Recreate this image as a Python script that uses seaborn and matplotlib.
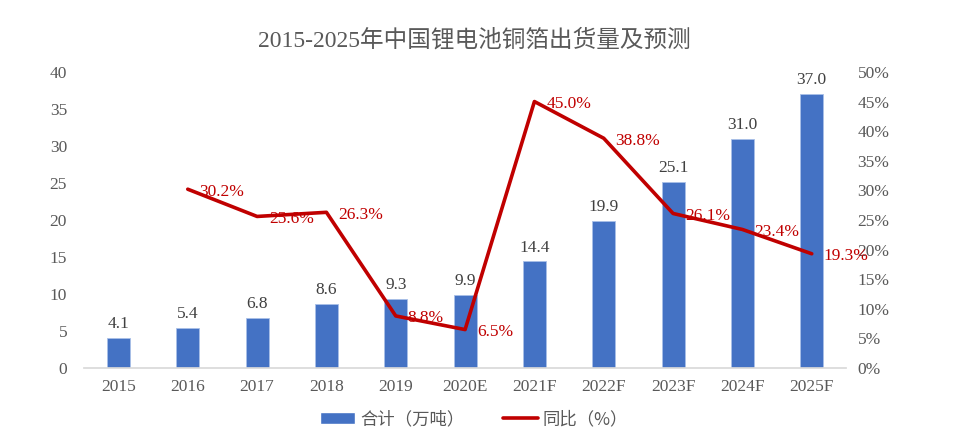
import numpy as np
import pandas as pd
import seaborn as sns
import matplotlib.pyplot as plt
from matplotlib.ticker import FuncFormatter
from matplotlib.patches import Patch
from matplotlib.lines import Line2D

# chart data
years = ['2015', '2016', '2017', '2018', '2019', '2020E',
         '2021F', '2022F', '2023F', '2024F', '2025F']
shipment = [4.1, 5.4, 6.8, 8.6, 9.3, 9.9, 14.4, 19.9, 25.1, 31.0, 37.0]
growth = [np.nan, 30.2, 25.6, 26.3, 8.8, 6.5, 45.0, 38.8, 26.1, 23.4, 19.3]

df = pd.DataFrame({'year': years, 'shipment': shipment, 'growth': growth})

sns.set_theme(style='white')
serif = ['Liberation Serif', 'Noto Sans CJK SC']
plt.rcParams['font.family'] = serif
plt.rcParams['axes.unicode_minus'] = False

fig, ax = plt.subplots(figsize=(9.74, 4.44), dpi=100)
fig.subplots_adjust(left=0.086, right=0.869, top=0.838, bottom=0.171)

sns.barplot(data=df, x='year', y='shipment', color='#4472C4',
            saturation=1, width=0.33, edgecolor='#A9C0E8', linewidth=0.6,
            ax=ax)
ax.set_ylim(0, 40)
ax.set_yticks(range(0, 41, 5))
ax.set_xlabel('')
ax.set_ylabel('')

for i, v in enumerate(shipment):
    ax.text(i, v + 0.8, f'{v:.1f}', ha='center', va='bottom',
            fontsize=12.5, color='#404040')

ax2 = ax.twinx()
x_idx = np.arange(len(years))
sns.lineplot(x=x_idx, y=df['growth'], color='#C00000', linewidth=2.6,
             ax=ax2, legend=False)
ax2.set_ylim(0, 50)
ax2.set_yticks(range(0, 51, 5))
ax2.yaxis.set_major_formatter(FuncFormatter(lambda v, p: f'{v:.0f}%'))
ax2.set_ylabel('')
ax.set_xlim(-0.5, len(years) - 0.5)

for i, g in enumerate(growth):
    if not np.isnan(g):
        ax2.text(i + 0.17, g - 0.4, f'{g:.1f}%', ha='left', va='center',
                 fontsize=12.5, color='#C00000')

for a in (ax, ax2):
    for s in a.spines.values():
        s.set_visible(False)
    a.tick_params(axis='both', length=0, labelsize=12.5, colors='#595959')
    a.grid(False)
ax.spines['bottom'].set_visible(True)
ax.spines['bottom'].set_color('#D9D9D9')
ax.tick_params(axis='x', pad=8)
ax.tick_params(axis='y', pad=12)
ax2.tick_params(axis='y', pad=8)

fig.suptitle('2015-2025年中国锂电池铜箔出货量及预测', x=0.487, y=0.91,
             va='center', fontsize=17, color='#595959')

handles = [Patch(facecolor='#4472C4', label='合计（万吨）'),
           Line2D([0], [0], color='#C00000', linewidth=2.6, label='同比（%）')]
fig.legend(handles=handles, loc='lower center', bbox_to_anchor=(0.487, 0.0),
           ncol=2, frameon=False, handlelength=2.0, columnspacing=2.2,
           prop={'family': ['Noto Sans CJK SC'], 'size': 12.5},
           labelcolor='#595959', handletextpad=0.3)

fig.savefig('out.png', dpi=100)
